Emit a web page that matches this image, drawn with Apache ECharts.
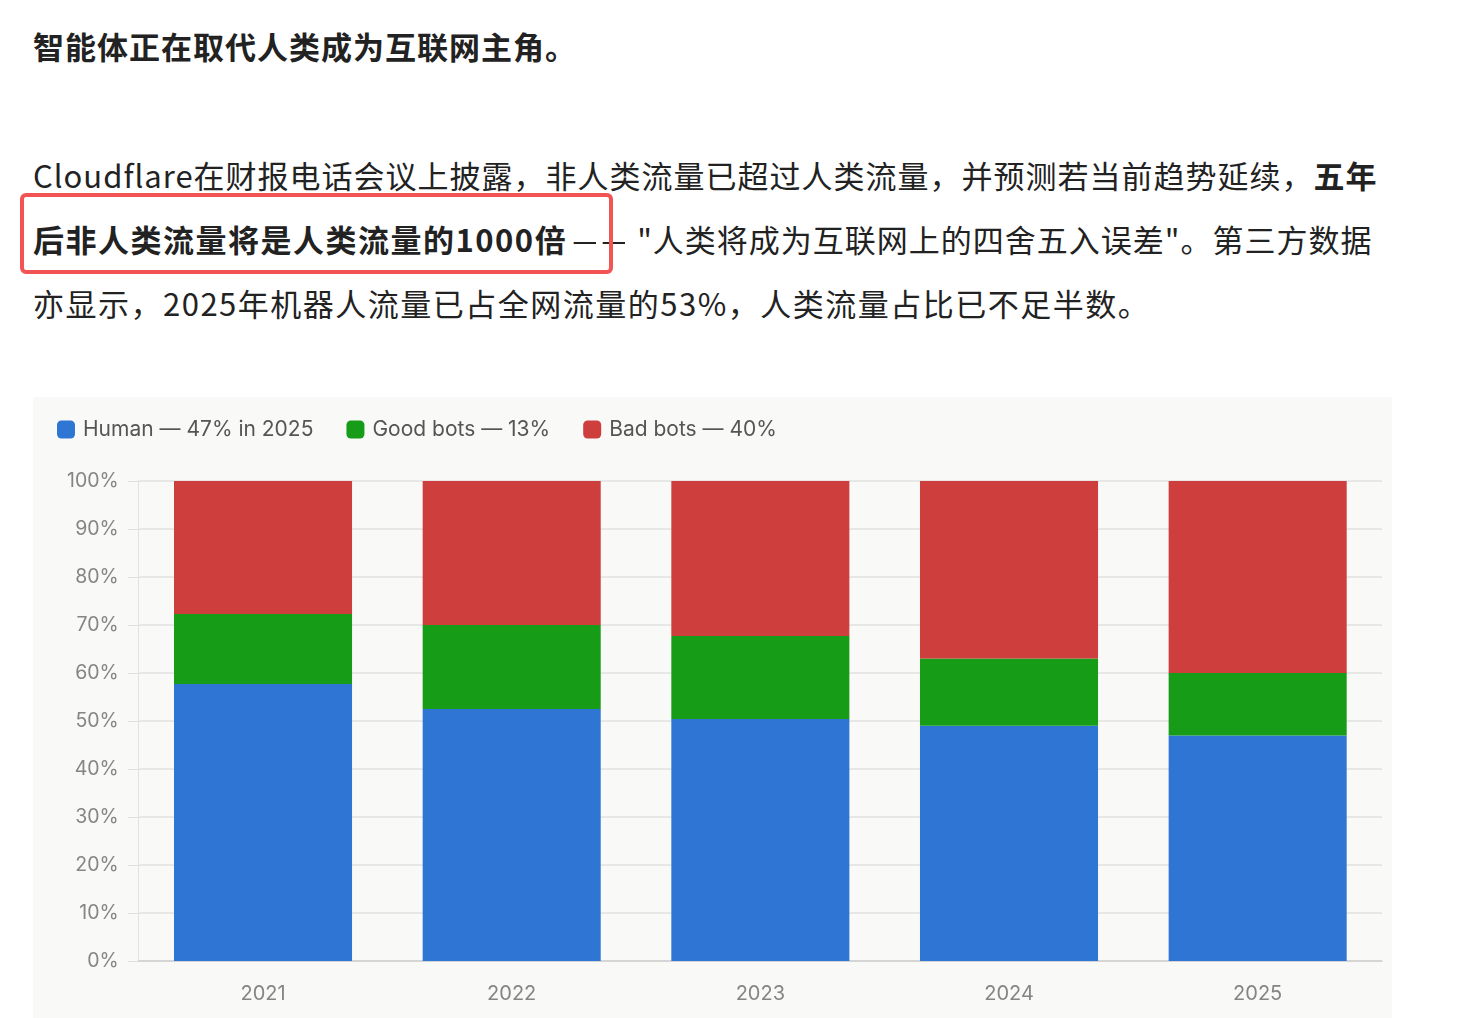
<!DOCTYPE html>
<html>
<head>
<meta charset="utf-8">
<script src="https://cdn.jsdelivr.net/npm/echarts@6/dist/echarts.min.js"></script>
<style>
  html, body { margin: 0; padding: 0; background: #ffffff; }
  body { width: 1464px; height: 1018px; position: relative; overflow: hidden;
         font-family: "Noto Sans CJK SC", "Noto Sans", sans-serif; color: #222; }
  .line { position: absolute; left: 33px; white-space: nowrap; font-size: 31px; letter-spacing: 1px; line-height: 40px; }
  .title { font-weight: bold; top: 26px; }
  b { font-weight: bold; }
  .b2 { letter-spacing: 1.5px; }
  .d { display: inline-block; width: 24px; overflow: hidden; letter-spacing: 0; vertical-align: top; margin-left: 5px; }
  .d2 { margin-right: 12px; }
  #box { position: absolute; left: 20px; top: 193px; width: 585px; height: 73px;
         border: 4px solid #f25454; border-radius: 6px; }
  #chart { position: absolute; left: 33px; top: 397px; width: 1359px; height: 621px; }
</style>
</head>
<body>
<div class="line title">智能体正在取代人类成为互联网主角。</div>
<div class="line" style="top:155px;">Cloudflare在财报电话会议上披露，非人类流量已超过人类流量，并预测若当前趋势延续，<b>五年</b></div>
<div class="line" style="top:219px;"><b class="b2">后非人类流量将是人类流量的1000倍</b><span class="d">—</span><span class="d d2">—</span>"人类将成为互联网上的四舍五入误差"。第三方数据</div>
<div class="line" style="top:283px; letter-spacing:1.5px;">亦显示，2025年机器人流量已占全网流量的53%，人类流量占比已不足半数。</div>
<div id="box"></div>
<div id="chart"></div>
<script>
const categories = ['2021', '2022', '2023', '2024', '2025'];
const seriesNames = ['Human — 47% in 2025', 'Good bots — 13%', 'Bad bots — 40%'];
const human = [57.7, 52.5, 50.4, 49.0, 47.0];
const goodBots = [14.6, 17.5, 17.3, 14.0, 13.0];
const badBots = [27.7, 30.0, 32.3, 37.0, 40.0];
const yTicks = [0, 10, 20, 30, 40, 50, 60, 70, 80, 90, 100];

const colors = ['#2e75d4', '#169c16', '#cd3e3c'];
const chart = echarts.init(document.getElementById('chart'), null, { renderer: 'canvas' });
const mk = (name, data, i) => ({
  name, type: 'bar', stack: 'total', data, barWidth: '71.6%',
  itemStyle: { color: colors[i] }, emphasis: { disabled: true }
});
chart.setOption({
  backgroundColor: '#f9f9f8',
  animation: false,
  textStyle: { fontFamily: 'Inter, "Noto Sans", sans-serif' },
  legend: {
    left: 19, top: 17, itemWidth: 18, itemHeight: 18, itemGap: 33,
    icon: 'roundRect',
    textStyle: { fontSize: 21, color: '#555555', padding: [0, 0, 0, 3] },
    data: seriesNames
  },
  grid: { left: 105.7, right: 10, top: 84, bottom: 57, containLabel: false },
  xAxis: {
    type: 'category', data: categories,
    axisLine: { lineStyle: { color: '#cfcfcf', width: 1.5 } },
    axisTick: { show: false },
    axisLabel: { color: '#858585', fontSize: 20, margin: 23 }
  },
  yAxis: {
    type: 'value', min: 0, max: 100, interval: 10,
    axisLine: { show: true, lineStyle: { color: '#e2e2e2' } },
    axisTick: { show: true, length: 11, lineStyle: { color: '#dedede' } },
    splitLine: { lineStyle: { color: '#e0e0e0', width: 1.5 } },
    axisLabel: { color: '#858585', fontSize: 19.5, margin: 20,
      formatter: v => (yTicks.indexOf(v) >= 0 ? v + '%' : '') }
  },
  series: [mk(seriesNames[0], human, 0), mk(seriesNames[1], goodBots, 1), mk(seriesNames[2], badBots, 2)]
});
</script>
</body>
</html>
